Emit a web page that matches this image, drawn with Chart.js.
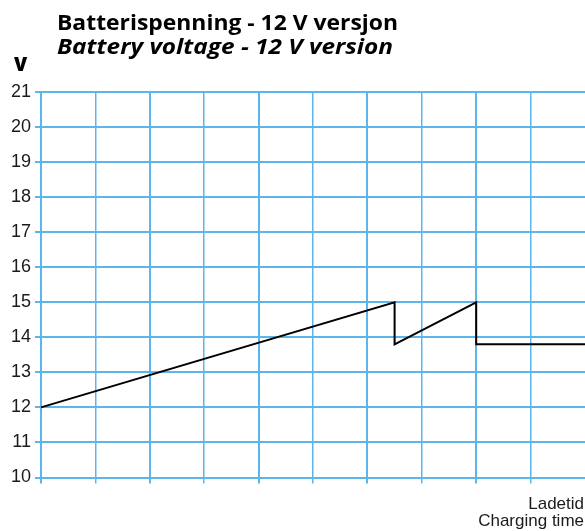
<!DOCTYPE html>
<html>
<head>
<meta charset="utf-8">
<script src="https://cdn.jsdelivr.net/npm/chart.js@4.4.1/dist/chart.umd.min.js"></script>
<style>
  html, body { margin: 0; padding: 0; background: #ffffff; }
  #wrap { width: 585px; height: 531px; position: relative; }
</style>
</head>
<body>
<div id="wrap"><canvas id="c" width="585" height="531"></canvas></div>
<script>
// ---- data ----
const timeValues = [0, 6.5, 6.5, 8, 8, 10];
const voltageValues = [12, 15, 13.8, 15, 13.8, 13.8];
const yTicks = [10, 11, 12, 13, 14, 15, 16, 17, 18, 19, 20, 21];
const titleLine1 = 'Batterispenning - 12 V versjon';
const titleLine2 = 'Battery voltage - 12 V version';
const yUnit = 'V';
const xLabel1 = 'Ladetid';
const xLabel2 = 'Charging time';

const points = timeValues.map((t, i) => ({ x: t, y: voltageValues[i] }));
const gridColor = '#5cb6ec';

function fitText(ctx, text, x, y, targetWidth) {
  const w = ctx.measureText(text).width;
  const sx = targetWidth / w;
  ctx.save();
  ctx.translate(x, y);
  ctx.scale(sx, 1);
  ctx.fillText(text, 0, 0);
  ctx.restore();
}

const textPlugin = {
  id: 'texts',
  afterDraw(chart) {
    const ctx = chart.ctx;
    ctx.save();
    ctx.fillStyle = '#000';
    ctx.textAlign = 'left';
    ctx.textBaseline = 'alphabetic';
    ctx.font = '700 21px "Open Sans"';
    fitText(ctx, titleLine1, 57, 30, 341);
    ctx.font = 'italic 700 21px "Open Sans"';
    fitText(ctx, titleLine2, 57, 54, 336);
    ctx.font = '800 19px "Open Sans"';
    ctx.fillText(yUnit, 14, 71);
    ctx.textAlign = 'right';
    ctx.fillStyle = '#1a1a1a';
    ctx.font = '17px "Liberation Sans"';
    ctx.fillText(xLabel1, 584, 509);
    ctx.fillText(xLabel2, 584, 526);
    ctx.restore();
  }
};

new Chart(document.getElementById('c'), {
  type: 'line',
  data: {
    datasets: [{
      data: points,
      borderColor: '#000000',
      borderWidth: 2,
      pointRadius: 0,
      tension: 0,
      fill: false,
      clip: false
    }]
  },
  options: {
    responsive: false,
    animation: false,
    events: [],
    layout: { padding: { top: 92, left: 0, right: 0, bottom: 0 } },
    plugins: { legend: { display: false }, tooltip: { enabled: false }, title: { display: false } },
    scales: {
      x: {
        type: 'linear',
        min: 0,
        max: 10,
        afterFit(scale) { scale.height = 53.5; },
        ticks: { stepSize: 1, padding: 0, callback: () => '' },
        grid: {
          color: (c) => (c.tick && c.tick.value === 10) ? 'rgba(0,0,0,0)' : gridColor,
          lineWidth: (c) => (c.tick && c.tick.value % 2 === 0) ? 2 : 1.5,
          tickLength: 6
        },
        border: { color: gridColor, width: 2 }
      },
      y: {
        type: 'linear',
        min: yTicks[0],
        max: yTicks[yTicks.length - 1],
        afterFit(scale) { scale.width = 41; },
        afterBuildTicks(scale) { scale.ticks = yTicks.map(v => ({ value: v })); },
        ticks: {
          color: '#1a1a1a',
          font: { family: 'Liberation Sans', size: 18 },
          padding: 4
        },
        grid: { color: gridColor, lineWidth: 2, tickLength: 6 },
        border: { color: gridColor, width: 2 }
      }
    }
  },
  plugins: [textPlugin]
});
</script>
</body>
</html>
